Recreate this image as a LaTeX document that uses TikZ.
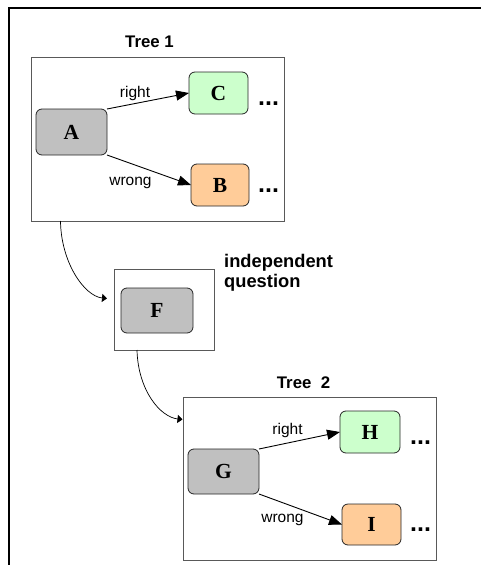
\documentclass[tikz,border=0pt]{standalone}
\usepackage{fontspec}
\setmainfont{Liberation Sans}
\newfontfamily\letterfont{Liberation Serif}
\usetikzlibrary{arrows.meta}

\definecolor{nodegray}{HTML}{C0C0C0}
\definecolor{nodegreen}{HTML}{CCFFCC}
\definecolor{nodeorange}{HTML}{FFCC99}

\tikzset{
  treebox/.style={draw=black!65, line width=0.8pt, fill=white,
    inner sep=0pt, outer sep=0pt},
  letter/.style={draw=black!85, line width=0.8pt, rounded corners=6pt,
    inner sep=0pt, outer sep=0pt,
    font=\letterfont\bfseries\fontsize{21.5}{24}\selectfont},
  title/.style={font=\bfseries\fontsize{16.8}{20}\selectfont, anchor=base,
    inner sep=0pt},
  branch/.style={font=\fontsize{15.5}{18}\selectfont, anchor=base, inner sep=0pt},
  more/.style={font=\bfseries\fontsize{25}{27}\selectfont, anchor=base west,
    inner sep=0pt},
  edge/.style={line width=0.9pt, -{Triangle[length=13pt,width=10pt]}},
  link/.style={line width=0.7pt, -{Triangle[length=5pt,width=8pt]}}
}

\begin{document}
\begin{tikzpicture}[x=1pt,y=-1pt]
\useasboundingbox (0,0) rectangle (481,565);

% page frame: top and left rules
\draw[line width=2pt] (9,565) -- (9,7.5) -- (481,7.5);

% tree 1
\node[treebox, minimum width=253pt, minimum height=164pt] (t1) at (157.5,139) {};
\node[title] (t1label) at (149.5,47.5) {Tree 1};
\node[letter, fill=nodegray, minimum width=71pt, minimum height=46pt] (A) at (71.5,132) {A};
\node[letter, fill=nodegreen, minimum width=59pt, minimum height=42pt] (C) at (218.5,93) {C};
\node[letter, fill=nodeorange, minimum width=58pt, minimum height=42pt] (B) at (220,185) {B};
\draw[edge] (A.north east) -- (C.west);
\draw[edge] (A.south east) -- (B.west);
\node[branch] (r1) at (135,97) {right};
\node[branch] (w1) at (130.5,185) {wrong};
\node[more] (mC) at (258,105.8) {...};
\node[more] (mB) at (258,192.8) {...};

% independent question
\node[treebox, minimum width=100pt, minimum height=81pt] (fbox) at (164,309.5) {};
\node[letter, fill=nodegray, minimum width=72pt, minimum height=45pt] (F) at (157,310.5) {F};
\node[font=\bfseries\fontsize{18.3}{20}\selectfont, anchor=base west, inner sep=0pt,
  align=left] (fq) at (224,287) {independent\\question};

% tree 2
\node[treebox, minimum width=253pt, minimum height=163pt] (t2) at (309.5,478.5) {};
\node[title] (t2label) at (303.5,388) {Tree~~2};
\node[letter, fill=nodegray, minimum width=71pt, minimum height=45pt] (G) at (223.5,471.5) {G};
\node[letter, fill=nodegreen, minimum width=60pt, minimum height=42pt] (H) at (370,432) {H};
\node[letter, fill=nodeorange, minimum width=59pt, minimum height=41pt] (I) at (371.5,524.5) {I};
\draw[edge] (G.north east) -- (H.west);
\draw[edge] (G.south east) -- (I.west);
\node[branch] (r2) at (287.5,434) {right};
\node[branch] (w2) at (282.5,522) {wrong};
\node[more] (mH) at (410,444) {...};
\node[more] (mI) at (410,531.8) {...};

% links between the boxes
\coordinate (q1) at (107,298.5);
\coordinate (q2) at (182.5,419.5);
\draw[link] ([xshift=29.5pt]t1.south west) .. controls (61,262) and (84,296) .. (q1);
\draw[link] ([xshift=23pt]fbox.south west) .. controls (138,390) and (160,417) .. (q2);
\end{tikzpicture}
\end{document}
